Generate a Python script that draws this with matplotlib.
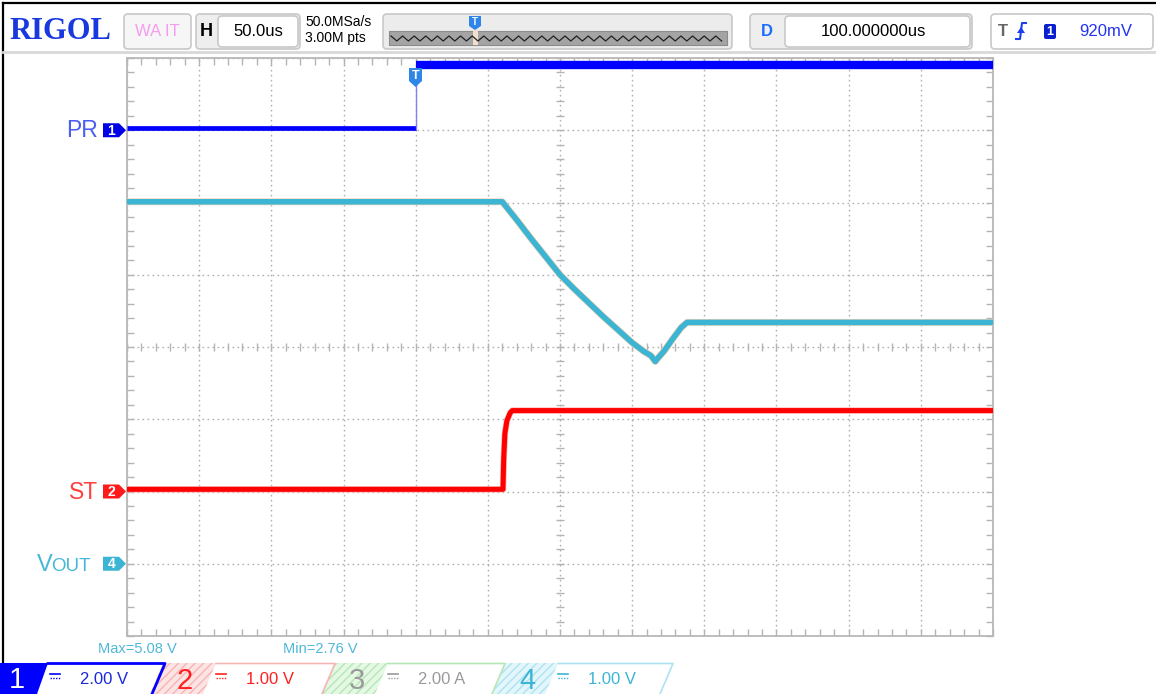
import numpy as np
import matplotlib.pyplot as plt
from matplotlib.patches import Polygon, FancyBboxPatch, Rectangle

plt.rcParams['font.family'] = ['Liberation Sans', 'DejaVu Sans']

W, H = 1156, 694
# screen grid in pixels
GX0, GX1, GY0, GY1 = 127, 993, 58, 636
NX, NY = 12, 8

# time base: 50 us/div, trigger 4 div from the left
t_div = 50.0
t_pos = 4

# channel 1 (PR) 2.00 V/div, ground at +3 div
pr_scale, pr_offset = 2.0, 3
pr_t = [-200, 0, 0, 400]
pr_v = [0.05, 0.05, 1.82, 1.82]

# channel 2 (ST) 1.00 V/div, ground at -2 div
st_scale, st_offset = 1.0, -2
st_t = [-200, 60.5, 61.0, 61.8, 63.2, 65.5, 67.0, 400]
st_v = [0.03, 0.03, 0.45, 0.80, 0.98, 1.09, 1.12, 1.12]

# channel 4 (VOUT) 1.00 V/div, ground at -3 div
vo_t = [-200, 60, 70, 80, 90, 100, 110, 120, 130, 140, 150, 158, 163, 166, 168, 172, 178, 184, 188, 400]
vo_v = [5.01, 5.01, 4.76, 4.50, 4.25, 4.00, 3.80, 3.61, 3.42, 3.24, 3.06, 2.94, 2.88, 2.80, 2.85,
        2.94, 3.11, 3.27, 3.34, 3.34]
vo_scale, vo_offset = 1.0, -3

BLUE = '#0000ff'
RED = '#ff0000'
CYAN = '#3cb4d4'


def to_x(t):
    return np.asarray(t) / t_div + t_pos


def to_y(v, scale, off):
    return np.asarray(v) / scale + off


fig = plt.figure(figsize=(W / 100, H / 100), dpi=100)
fig.patch.set_facecolor('white')

ax = fig.add_axes([GX0 / W, 1 - GY1 / H, (GX1 - GX0) / W, (GY1 - GY0) / H], zorder=2)
ax.set_xlim(0, NX)
ax.set_ylim(-NY / 2, NY / 2)
ax.set_xticks(np.arange(0, NX + 1))
ax.set_yticks(np.arange(-NY / 2, NY / 2 + 1))
ax.set_xticks(np.arange(0, NX + 0.01, 0.2), minor=True)
ax.set_yticks(np.arange(-NY / 2, NY / 2 + 0.01, 0.2), minor=True)
ax.tick_params(which='both', direction='in', length=5, width=1, color='#b4b4b4',
               top=True, right=True, labelbottom=False, labelleft=False)
ax.grid(True, which='major', color='#b0b0b0', linestyle=(0, (1.2, 2.4)), lw=1)
for s in ax.spines.values():
    s.set_color('#b8b8b8')
    s.set_linewidth(1.3)

# centre cross ticks
cx = np.arange(0, NX + 0.01, 0.2)
cy = np.arange(-NY / 2, NY / 2 + 0.01, 0.2)
ax.vlines(cx, -0.06, 0.06, color='#b4b4b4', lw=1)
ax.hlines(cy, NX / 2 - 0.06, NX / 2 + 0.06, color='#b4b4b4', lw=1)

# traces
px, py = to_x(pr_t), to_y(pr_v, pr_scale, pr_offset)
ax.plot(px[:2], py[:2], color=BLUE, lw=3.4, solid_capstyle='butt', zorder=5)
ax.plot(px[1:3], py[1:3], color='#8080ff', lw=1, zorder=5)
ax.plot(px[2:], py[2:], color=BLUE, lw=6, solid_capstyle='butt', zorder=5)

sx, sy = to_x(st_t), to_y(st_v, st_scale, st_offset)
ax.plot(sx, sy, color='#ffb0b0', lw=4.6, solid_capstyle='butt', zorder=4)
ax.plot(sx, sy, color=RED, lw=3.6, solid_capstyle='butt', zorder=5)

vx, vy = to_x(vo_t), to_y(vo_v, vo_scale, vo_offset)
ax.plot(vx, vy, color='#f0d4b4', lw=5, solid_capstyle='butt', zorder=4)
ax.plot(vx, vy, color=CYAN, lw=4, solid_capstyle='butt', zorder=5)

# overlay in pixel coordinates
ov = fig.add_axes([0, 0, 1, 1], zorder=3)
ov.set_xlim(0, W)
ov.set_ylim(H, 0)
ov.axis('off')
ov.patch.set_visible(False)


def rbox(x0, y0, x1, y1, fc='white', ec='#c8c8c8'):
    ov.add_patch(FancyBboxPatch((x0, y0), x1 - x0, y1 - y0,
                                boxstyle='round,pad=0,rounding_size=4',
                                fc=fc, ec=ec, lw=1.2))


# frame and header
ov.plot([3, 3], [3, 662], color='black', lw=1.6)
ov.plot([3, W], [3, 3], color='black', lw=1.6)
ov.plot([3, W], [52, 52], color='#d8d8d8', lw=2)

ov.text(9, 31, 'RIGOL', family='Liberation Serif', fontweight='bold', fontsize=22,
        color='#1838e0', va='center', ha='left')

rbox(124, 14, 191, 49, fc='#f6f6f6')
ov.text(157, 31, 'WA IT', fontsize=12, color='#f59cf0', ha='center', va='center')

rbox(196, 14, 300, 49, fc='#eeeeee')
rbox(218, 16, 298, 47)
ov.text(206, 31, 'H', fontsize=13, fontweight='bold', color='black', ha='center', va='center')
ov.text(258, 31, '50.0us', fontsize=12, color='black', ha='center', va='center')

ov.text(305, 22, '50.0MSa/s', fontsize=10, color='black', ha='left', va='center')
ov.text(305, 38, '3.00M pts', fontsize=10, color='black', ha='left', va='center')

rbox(383, 14, 732, 49, fc='#ececec')
ov.add_patch(Rectangle((389, 31), 338, 14, fc='#a4a4a4', ec='#8c8c8c', lw=0.8))
zx = np.arange(391, 726, 5.8)
zy = np.where(np.arange(len(zx)) % 2 == 0, 36, 41)
ov.plot(zx, zy, color='#202020', lw=0.9)
ov.add_patch(Rectangle((472.5, 30), 5, 15, fc='#f3dfcf', ec='none'))
ov.add_patch(Polygon([(469, 16), (481, 16), (481, 26), (475, 30), (469, 26)], closed=True,
                     fc='#2e86e8', ec='none'))
ov.text(475, 22, 'T', fontsize=7, fontweight='bold', color='white', ha='center', va='center')

rbox(750, 14, 972, 49, fc='#eeeeee')
rbox(785, 16, 970, 47)
ov.text(767, 31, 'D', fontsize=12, fontweight='bold', color='#1a6cff', ha='center', va='center')
ov.text(873, 31, '100.000000us', fontsize=12, color='black', ha='center', va='center')

rbox(991, 14, 1153, 49)
ov.text(1003, 31, 'T', fontsize=12, fontweight='bold', color='#666666', ha='center', va='center')
ov.plot([1016, 1020, 1022, 1026], [39, 39, 23, 23], color='#1a3ff0', lw=1.5)
ov.add_patch(Polygon([(1017, 33), (1025, 33), (1021, 27)], closed=True, fc='#1a3ff0', ec='none'))
ov.add_patch(FancyBboxPatch((1044, 24), 12, 15, boxstyle='round,pad=0,rounding_size=2',
                            fc='#0a1fd0', ec='none'))
ov.text(1050, 31.5, '1', fontsize=9, fontweight='bold', color='white', ha='center', va='center')
ov.text(1106, 31, '920mV', fontsize=12, color='#2233ee', ha='center', va='center')

# trigger position marker on the grid
ov.add_patch(Polygon([(409, 68), (422, 68), (422, 81), (415.5, 87), (409, 81)], closed=True,
                     fc='#2e86e8', ec='none'))
ov.text(415.5, 76, 'T', fontsize=9, fontweight='bold', color='white', ha='center', va='center')

# channel ground markers and labels
div_px = (GY1 - GY0) / NY


def ch_marker(off, num, col, numcol='white'):
    y = GY0 + (NY / 2 - off) * div_px
    ov.add_patch(Polygon([(103, y - 7), (119, y - 7), (126, y), (119, y + 7), (103, y + 7)],
                         closed=True, fc=col, ec='none'))
    ov.text(111.5, y + 0.5, num, fontsize=10, fontweight='bold', color=numcol, ha='center', va='center')
    return y


y1 = ch_marker(pr_offset, '1', '#0000e6')
y2 = ch_marker(st_offset, '2', '#ff1a1a')
y4 = ch_marker(vo_offset, '4', '#3cb4d4')
ov.text(98, y1 + 7, 'PR', fontsize=16.5, color='#4b5ef2', ha='right', va='baseline')
ov.text(98, y2 + 7, 'ST', fontsize=16.5, color='#ff4040', ha='right', va='baseline')
ov.text(37, y4 + 7, 'V', fontsize=17, color='#45b8d8', ha='left', va='baseline')
ov.text(51, y4 + 7, 'OUT', fontsize=13.5, color='#45b8d8', ha='left', va='baseline')

# measurement read-outs
ov.text(98, 649, 'Max=5.08 V', fontsize=10.5, color='#4fb8d8', ha='left', va='center')
ov.text(283, 649, 'Min=2.76 V', fontsize=10.5, color='#4fb8d8', ha='left', va='center')


def dc_sym(x, y, col):
    ov.plot([x, x + 10], [y, y], color=col, lw=1.2)
    ov.plot([x, x + 10], [y + 4, y + 4], color=col, lw=1, linestyle=(0, (1, 1)))


# channel tabs
ov.add_patch(Polygon([(0, 663), (48, 663), (37, 694), (0, 694)], closed=True, fc='#0000ff', ec='none'))
ov.text(17, 680, '1', fontsize=21, color='white', ha='center', va='center')
ov.plot([48, 165, 152], [663.5, 663.5, 694], color='#0000ff', lw=2)
dc_sym(50, 674, '#0000ff')
ov.text(80, 680, '2.00 V', fontsize=12, color='#1a2ad8', ha='left', va='center')

tabs = [
    (163, '2', '1.00 V', '#ff2020', '#ff2020', '#fde4e4', '#f6b4b4', 335),
    (335, '3', '2.00 A', '#9a9a9a', '#9a9a9a', '#e4f8e4', '#b6e6b6', 505),
    (505, '4', '1.00 V', '#3cb4d4', '#3cb4d4', '#e2f6fb', '#aee2f0', 673),
]
for x0, num, txt, ncol, tcol, face, edge, xend in tabs:
    ov.add_patch(Polygon([(x0, 663), (x0 + 53, 663), (x0 + 40, 694), (x0 - 13, 694)],
                         closed=True, fc=face, ec=edge, lw=0, hatch='////'))
    ov.text(x0 + 22, 681, num, fontsize=21, color=ncol, ha='center', va='center')
    dc_sym(x0 + 53, 674, tcol)
    ov.text(x0 + 83, 680, txt, fontsize=12, color=tcol, ha='left', va='center')
    ov.plot([x0 + 53, xend, xend - 13], [663.5, 663.5, 694], color=edge, lw=1.2)

fig.savefig('out.png', dpi=100, facecolor='white')
